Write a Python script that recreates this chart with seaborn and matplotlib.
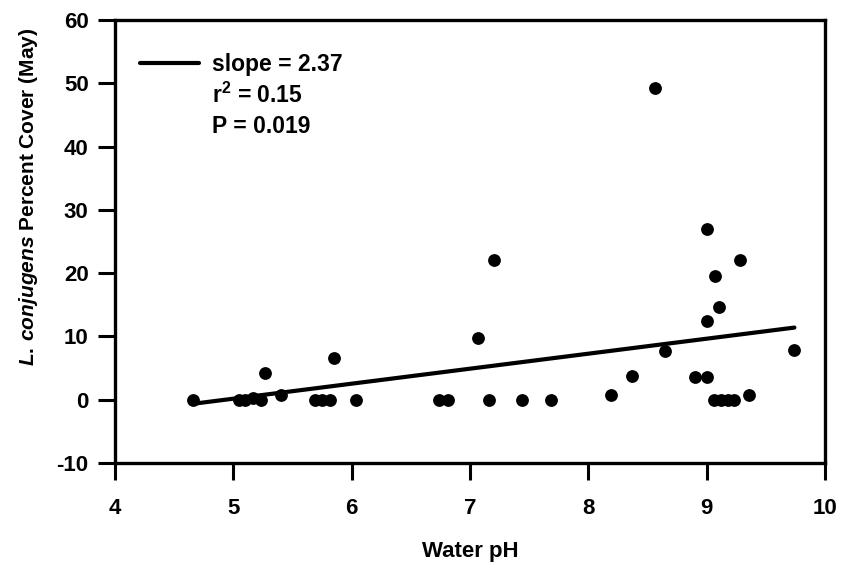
import matplotlib
matplotlib.use("Agg")
import matplotlib.pyplot as plt
from matplotlib.lines import Line2D
import seaborn as sns
import numpy as np
import pandas as pd

# water pH and May percent cover
ph = [4.66, 5.05, 5.10, 5.17, 5.23, 5.27, 5.40, 5.69, 5.75, 5.82, 5.85, 6.04,
      6.74, 6.81, 7.07, 7.16, 7.20, 7.44, 7.68, 8.19, 8.37, 8.56, 8.65, 8.90,
      9.00, 9.00, 9.00, 9.06, 9.07, 9.10, 9.12, 9.18, 9.23, 9.28, 9.36, 9.74]
cover = [0.0, 0.0, 0.0, 0.3, 0.0, 4.2, 0.8, 0.0, 0.0, 0.0, 6.6, 0.0,
         0.0, 0.0, 9.7, 0.0, 22.0, 0.0, 0.0, 0.7, 3.7, 49.2, 7.7, 3.6,
         3.6, 12.5, 27.0, 0.0, 19.6, 14.6, 0.0, 0.0, 0.0, 22.0, 0.8, 7.9]

# regression stats
slope = 2.37
intercept = -11.69
r2_text = "0.15"
p_text = "0.019"

x_ticks = [4, 5, 6, 7, 8, 9, 10]
y_ticks = [-10, 0, 10, 20, 30, 40, 50, 60]

sns.set_style("ticks")
plt.rcParams["font.family"] = ["Liberation Sans", "DejaVu Sans"]
plt.rcParams["font.weight"] = "bold"
plt.rcParams["axes.unicode_minus"] = False
plt.rcParams["mathtext.fontset"] = "custom"
plt.rcParams["mathtext.rm"] = "Liberation Sans:bold"
plt.rcParams["mathtext.it"] = "Liberation Sans:italic:bold"
for key in ["text.color", "axes.labelcolor", "xtick.color", "ytick.color",
            "axes.edgecolor"]:
    plt.rcParams[key] = "black"

df = pd.DataFrame({"ph": ph, "cover": cover})

fig = plt.figure(figsize=(8.42, 5.69), dpi=100)
ax = fig.add_axes([0.1366, 0.1863, 0.8434, 0.7787])

sns.scatterplot(data=df, x="ph", y="cover", color="black", s=85,
                edgecolor="black", linewidth=0, ax=ax, zorder=3)

fit_x = np.array([min(ph), max(ph)])
ax.plot(fit_x, intercept + slope * fit_x, color="black", lw=3, zorder=2)

ax.set_xlim(4, 10)
ax.set_ylim(-10, 60)
ax.set_xticks(x_ticks)
ax.set_yticks(y_ticks)
ax.tick_params(direction="out", length=12, width=2.2, labelsize=16)
ax.tick_params(axis="x", pad=13)
ax.tick_params(axis="y", pad=7)
for lab in ax.get_xticklabels() + ax.get_yticklabels():
    lab.set_fontweight("bold")
for sp in ax.spines.values():
    sp.set_linewidth(2.4)

ax.set_xlabel("Water pH", fontsize=16, fontweight="bold", labelpad=16)
ax.set_ylabel(r"$\it{L.\,conjugens}$ Percent Cover (May)", fontsize=15,
              fontweight="bold")
ax.yaxis.set_label_coords(-0.106, 0.60)

handles = [Line2D([], [], color="black", lw=3),
           Line2D([], [], color="none"),
           Line2D([], [], color="none")]
labels = [f"slope = {slope}", r"r$^2$ = " + r2_text, "P = " + p_text]
ax.legend(handles, labels, loc="upper left", frameon=False, fontsize=16.5,
          handlelength=2.6, handletextpad=0.55, labelspacing=0.3,
          borderaxespad=0.0, borderpad=0.0, bbox_to_anchor=(0.035, 0.925))

fig.savefig("out.png", dpi=100)
